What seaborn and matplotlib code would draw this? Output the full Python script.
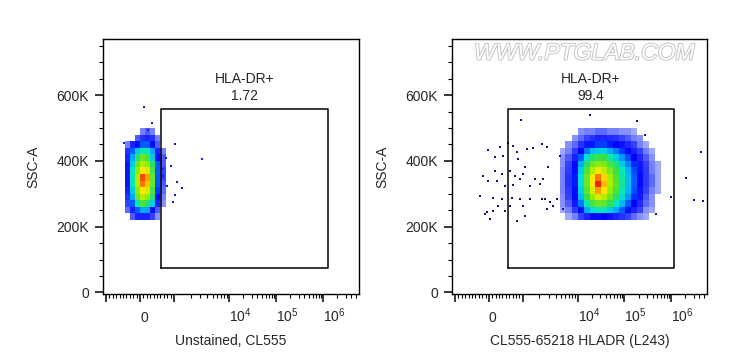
import numpy as np
import pandas as pd
import seaborn as sns
import matplotlib.pyplot as plt
import matplotlib.patheffects as pe
from matplotlib.colors import LinearSegmentedColormap

# ---- values ----
# SSC-A bins shared by both density grids (rows listed top -> bottom below)
ssc_edges = [220000, 240000, 260000, 280000, 300000, 320000, 340000, 360000,
             380000, 400000, 420000, 440000, 460000, 480000, 500000]

# unstained sample: CL555 bins and relative event density
unst_fl_edges = [-450, -300, -150, 0, 150, 300, 450, 600, 750]
unst_density = [
    [0, 0, 0, 0.3, 0.5, 0.3, 0, 0],
    [0, 0, 0.5, 0.8, 1, 0.8, 0.3, 0],
    [0.3, 1, 1.5, 2, 2, 1.5, 0.5, 0],
    [0.8, 2, 3, 3.5, 3.5, 2.5, 1, 0.3],
    [1, 2.5, 4, 5, 4.5, 3, 1.5, 0.5],
    [1.2, 3, 5, 6, 5.5, 4, 2, 0.5],
    [1.2, 3.5, 5.5, 7, 6.5, 4.5, 2, 0.6],
    [1.2, 3.5, 6, 9, 8, 5, 2, 0.6],
    [1.2, 3.5, 6, 8.5, 7.5, 5, 2, 0.5],
    [1, 3, 5.5, 7, 6.5, 4.5, 1.8, 0.4],
    [0.8, 2.5, 5, 6, 5.5, 4, 1.5, 0.3],
    [0.6, 2, 3.5, 4.5, 4, 3, 1, 0.2],
    [0.4, 1, 2, 2.5, 2.5, 1.5, 0.5, 0],
    [0, 0.5, 1, 1, 1, 0.6, 0.2, 0],
]
unst_sparse_fl = [118, 350, 235, 1030, 3240, 765, 910, 1130, 1400, 1030, 970,
                  -470, -410, 676, 794, 650]
unst_sparse_ssc = [565000, 516000, 495000, 450000, 405000, 410000, 384000, 335000,
                   317000, 295000, 274000, 455000, 313000, 353000, 323000, 374000]

# stained sample: CL555-65218 HLADR bins and relative event density
hladr_fl_edges = [4700, 6000, 7800, 10000, 13400, 18000, 24000, 32000, 43000,
                  58000, 78000, 105000, 141000, 189000, 254000, 340000, 457000, 613000]
hladr_density = [
    [0, 0, 0, 0.2, 0.3, 0.3, 0.4, 0.4, 0.3, 0.3, 0.2, 0.2, 0.1, 0, 0, 0, 0],
    [0, 0, 0.2, 0.4, 0.6, 0.8, 1, 1, 0.9, 0.8, 0.6, 0.5, 0.3, 0.2, 0, 0, 0],
    [0, 0.2, 0.4, 0.8, 1.2, 1.6, 1.8, 1.8, 1.6, 1.4, 1.2, 0.9, 0.6, 0.3, 0.1, 0, 0],
    [0.1, 0.3, 0.7, 1.4, 2.2, 2.8, 3, 3, 2.6, 2.2, 1.8, 1.4, 1, 0.6, 0.3, 0.1, 0],
    [0.2, 0.5, 1, 2, 3.2, 4, 4.4, 4.2, 3.6, 3, 2.4, 1.9, 1.4, 0.9, 0.5, 0.2, 0],
    [0.2, 0.6, 1.3, 2.6, 4, 5, 5.5, 5.2, 4.5, 3.8, 3, 2.3, 1.7, 1.1, 0.6, 0.3, 0.1],
    [0.3, 0.7, 1.5, 3, 4.6, 6, 6.8, 6.2, 5.2, 4.3, 3.4, 2.6, 1.9, 1.2, 0.7, 0.3, 0.1],
    [0.3, 0.8, 1.6, 3.2, 5, 6.8, 8.5, 7.2, 5.8, 4.6, 3.6, 2.8, 2, 1.3, 0.7, 0.4, 0.1],
    [0.3, 0.8, 1.6, 3.2, 5, 7, 9.5, 7.6, 6, 4.8, 3.7, 2.8, 2, 1.3, 0.7, 0.4, 0.1],
    [0.3, 0.7, 1.5, 3, 4.8, 6.5, 8, 7, 5.6, 4.5, 3.5, 2.7, 1.9, 1.2, 0.6, 0.3, 0.1],
    [0.2, 0.6, 1.3, 2.7, 4.3, 5.6, 6.5, 6, 5, 4, 3.2, 2.4, 1.7, 1.1, 0.5, 0.2, 0],
    [0.2, 0.5, 1.1, 2.2, 3.5, 4.5, 5, 4.8, 4.2, 3.4, 2.7, 2, 1.4, 0.9, 0.4, 0.2, 0],
    [0.1, 0.3, 0.7, 1.5, 2.5, 3.2, 3.5, 3.4, 3, 2.5, 2, 1.5, 1, 0.6, 0.2, 0.1, 0],
    [0, 0.1, 0.3, 0.6, 1, 1.3, 1.5, 1.4, 1.2, 1, 0.8, 0.6, 0.4, 0.2, 0.1, 0, 0],
]
hladr_sparse_fl = [962, 559, -29, 324, 706, 824, 1183, 1520, 2214, 2730, 176, 412,
                   853, 1087, 176, 382, 618, 765, 1000, 912, 1653, -176, -29, 235,
                   471, 706, 1341, 2036, -265, 118, 382, 676, 912, 1341, 2214, 3097,
                   265, 618, 1000, -59, 118, 471, 29, 824, 1087, 2730, 18000, 189000,
                   280000, 1.0e6, 480000, 2.08e6, 4.35e6, 3.08e6, 4.8e6, -118, 2310,
                   2850, 2510, 4150, 4710, 3510, 5340]
hladr_sparse_ssc = [524000, 456000, 432000, 441000, 444000, 426000, 435000, 438000,
                    450000, 441000, 411000, 414000, 405000, 383000, 368000, 359000,
                    368000, 353000, 359000, 344000, 344000, 353000, 338000, 338000,
                    323000, 326000, 323000, 329000, 292000, 286000, 283000, 286000,
                    283000, 283000, 283000, 274000, 262000, 262000, 262000, 244000,
                    247000, 247000, 223000, 217000, 232000, 253000, 541000, 520000,
                    480000, 289000, 238000, 347000, 426000, 280000, 277000, 238000,
                    344000, 383000, 283000, 283000, 414000, 262000, 253000]

gate_fl = [[610, 1.26e6], [570, 1.15e6]]
gate_ssc = [75000, 557000]
gate_name = 'HLA-DR+'
gate_pct = ['1.72', '99.4']
x_titles = ['Unstained, CL555', 'CL555-65218 HLADR (L243)']

y_ticks = [0, 200000, 400000, 600000]
y_ticklabels = ['0', '200K', '400K', '600K']
x_ticks = [-1000, 0, 1000, 1e4, 1e5, 1e6]
x_ticklabels = ['', '0', '', r'$\mathregular{10^{4}}$', r'$\mathregular{10^{5}}$',
                r'$\mathregular{10^{6}}$']


# biexponential-like display transform (linear near zero, log above 10^3)
def biex(v):
    v = np.asarray(v, dtype=float)
    a = np.abs(v)
    with np.errstate(all='ignore'):
        lg = np.log10(np.maximum(a, 1.0))
        out = np.where(a <= 1e3, a * 0.034,
                       np.where(a <= 1e4, 34 + 55 * (lg - 3), 89 + 47 * (lg - 4)))
    return np.sign(v) * out


def biex_inv(u):
    u = np.asarray(u, dtype=float)
    a = np.minimum(np.abs(u), 600)
    with np.errstate(all='ignore'):
        out = np.where(a <= 34, a / 0.034,
                       np.where(a <= 89, 10 ** (3 + (a - 34) / 55), 10 ** (4 + (a - 89) / 47)))
    return np.sign(u) * out


def grid_frame(x_edges, density):
    xe = biex(x_edges)
    ye = np.array(ssc_edges, dtype=float)
    xc = biex_inv((xe[:-1] + xe[1:]) / 2)
    yc = (ye[:-1] + ye[1:]) / 2
    d = np.array(density, dtype=float)[::-1]
    X, Y = np.meshgrid(xc, yc)
    df = pd.DataFrame({'fl': X.ravel(), 'ssc': Y.ravel(), 'n': d.ravel()})
    return df[df['n'] > 0]


sns.set_style('ticks')
plt.rcParams['font.family'] = ['Liberation Sans', 'DejaVu Sans']
plt.rcParams['mathtext.fontset'] = 'custom'
plt.rcParams['mathtext.rm'] = 'Liberation Sans'
plt.rcParams['mathtext.it'] = 'Liberation Sans:italic'

flow_cmap = LinearSegmentedColormap.from_list('flow', [
    (0.0, '#b0b8ff'), (0.06, '#3040ff'), (0.14, '#0000ff'), (0.25, '#00a8ff'),
    (0.33, '#00e8d0'), (0.42, '#30e050'), (0.58, '#a0f000'), (0.7, '#ffe800'),
    (0.84, '#ff8000'), (1.0, '#e00000')])

fig = plt.figure(figsize=(7.3, 3.64), dpi=100)
axes = [fig.add_axes([0.1411, 0.1923, 0.3507, 0.7005]),
        fig.add_axes([0.6192, 0.1923, 0.3493, 0.7005])]

panels = [(unst_fl_edges, unst_density, unst_sparse_fl, unst_sparse_ssc, '#1a1ad0'),
          (hladr_fl_edges, hladr_density, hladr_sparse_fl, hladr_sparse_ssc, '#10108a')]

x_minor = ([-v for v in range(100, 1000, 100)] + list(range(100, 1000, 100))
           + [m * 10 ** e for e in (3, 4, 5) for m in range(2, 10)]
           + [m * 1e6 for m in range(2, 6)])
y_minor = [v for v in range(50000, 800000, 50000) if v % 200000]

for i, ax in enumerate(axes):
    edges, dens, sx, sy, dot_color = panels[i]
    ax.set_xscale('function', functions=(biex, biex_inv))

    # seaborn bins in the scaled (display) space of the x axis
    df = grid_frame(edges, dens)
    sns.histplot(data=df, x='fl', y='ssc', weights='n',
                 bins=[biex(edges), ssc_edges],
                 cmap=flow_cmap, vmin=0, vmax=10, ax=ax)
    sns.scatterplot(x=sx, y=sy, ax=ax, marker='s', s=3, color=dot_color,
                    linewidth=0, zorder=3)

    gx0, gx1 = gate_fl[i]
    gy0, gy1 = gate_ssc
    ax.plot([gx0, gx1, gx1, gx0, gx0], [gy0, gy0, gy1, gy1, gy0],
            color='black', lw=1.1, zorder=4)
    xc = biex_inv((biex(gx0) + biex(gx1)) / 2)
    ax.text(xc, 650000, gate_name, ha='center', va='center', fontsize=10)
    ax.text(xc, 598000, gate_pct[i], ha='center', va='center', fontsize=10)

    ax.set_xlim(-1135, 5.8e6)
    ax.set_ylim(-5000, 771000)

    ax.set_xticks(x_ticks, x_ticklabels)
    ax.set_xticks(x_minor, minor=True)
    ax.set_yticks(y_ticks, y_ticklabels)
    ax.set_yticks(y_minor, minor=True)
    ax.tick_params(which='major', length=6, width=1.1, color='black',
                   labelsize=10, direction='out')
    ax.tick_params(which='minor', length=3, width=0.8, color='black', direction='out')
    ax.tick_params(axis='x', which='major', pad=14)
    ax.tick_params(axis='y', which='major', pad=4)
    for t in ax.get_xticklabels():
        t.set_ha('left')
        t.set_va('baseline')

    for s in ax.spines.values():
        s.set_visible(True)
        s.set_color('black')
        s.set_linewidth(1)

    ax.set_xlabel(x_titles[i], fontsize=10)
    ax.set_ylabel('SSC-A', fontsize=10)
    ax.xaxis.set_label_coords(0.5, -0.155)
    ax.yaxis.set_label_coords(-0.245, 0.5)

wm = axes[1].text(0.518, 0.945, 'WWW.PTGLAB.COM', transform=axes[1].transAxes,
                  ha='center', va='center', fontsize=16.5, fontstyle='italic',
                  color='white', zorder=6)
wm.set_path_effects([pe.Stroke(linewidth=1.4, foreground='#c4c4c4'), pe.Normal()])

fig.savefig('out.png', dpi=100)
